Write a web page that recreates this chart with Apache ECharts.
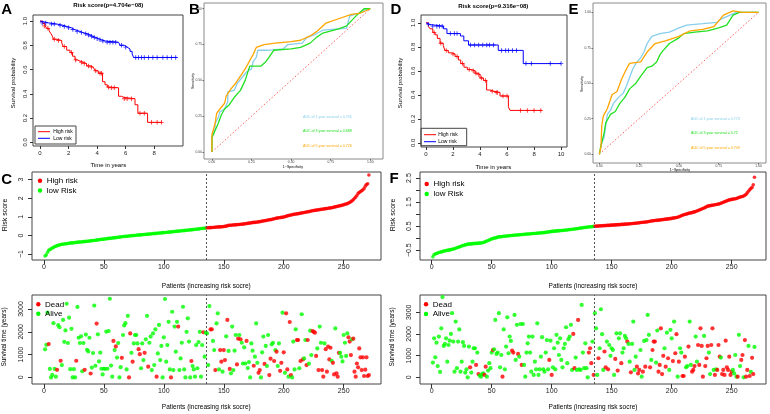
<!DOCTYPE html>
<html><head><meta charset="utf-8">
<script src="https://cdn.jsdelivr.net/npm/echarts@6/dist/echarts.min.js"></script>
<style>html,body{margin:0;padding:0;background:#fff}#c{width:770px;height:414px}</style>
</head><body><div id="c"></div>
<script>
// ---------------- DATA ----------------
// Kaplan-Meier curves: [time in years, survival probability]
const kmA_high = [[0,1],[0.19,0.98],[0.35,0.96],[0.47,0.94],[0.63,0.92],[0.75,0.90],[0.89,0.87],[0.93,0.85],[1.17,0.84],[1.52,0.82],[1.63,0.79],[1.87,0.76],[2.1,0.74],[2.28,0.71],[2.45,0.68],[2.61,0.67],[2.8,0.66],[3.03,0.65],[3.26,0.63],[3.5,0.62],[3.73,0.61],[3.85,0.59],[4.08,0.57],[4.38,0.50],[4.55,0.475],[4.71,0.455],[4.9,0.45],[5.5,0.38],[5.7,0.37],[5.88,0.36],[6.65,0.31],[6.85,0.24],[7.53,0.165],[8.55,0.165]];
const kmA_highCens = [[0.3,0.96],[0.55,0.94],[1.0,0.85],[1.3,0.84],[1.7,0.79],[2.2,0.74],[2.5,0.68],[2.9,0.66],[3.1,0.65],[3.4,0.63],[3.6,0.62],[3.9,0.59],[4.2,0.57],[4.3,0.57],[4.8,0.455],[5.0,0.45],[5.2,0.45],[5.9,0.36],[6.1,0.36],[6.4,0.36],[7.0,0.24],[7.3,0.24],[7.8,0.165],[8.2,0.165],[8.5,0.165]];
const kmA_low = [[0,1],[0.1,0.985],[0.6,0.975],[1.2,0.965],[1.6,0.955],[1.9,0.945],[2.2,0.93],[2.4,0.915],[2.8,0.905],[3.0,0.895],[3.3,0.885],[3.5,0.875],[3.7,0.865],[3.9,0.855],[4.1,0.845],[4.3,0.835],[4.6,0.825],[5.5,0.815],[5.6,0.80],[5.9,0.785],[6.1,0.77],[6.3,0.75],[6.45,0.73],[6.55,0.70],[9.57,0.70]];
const kmA_lowCens = [[0.15,0.985],[0.4,0.985],[0.8,0.975],[1.0,0.975],[1.4,0.965],[1.7,0.955],[2.0,0.945],[2.3,0.93],[2.6,0.915],[2.9,0.905],[3.2,0.895],[3.4,0.885],[3.6,0.875],[3.8,0.865],[4.0,0.855],[4.2,0.845],[4.4,0.835],[4.7,0.825],[4.9,0.825],[5.1,0.825],[5.3,0.825],[5.7,0.80],[6.0,0.785],[6.7,0.70],[6.9,0.70],[7.1,0.70],[7.3,0.70],[7.6,0.70],[7.9,0.70],[8.2,0.70],[8.6,0.70],[8.9,0.70],[9.2,0.70],[9.5,0.70]];

const kmD_high = [[0,1],[0.17,0.97],[0.3,0.95],[0.5,0.92],[0.67,0.90],[0.84,0.87],[1.04,0.83],[1.28,0.81],[1.4,0.77],[1.65,0.75],[1.9,0.74],[2.15,0.72],[2.4,0.69],[2.57,0.66],[2.81,0.63],[3.06,0.61],[3.38,0.60],[3.63,0.58],[3.8,0.57],[4.0,0.54],[4.25,0.52],[4.49,0.44],[4.74,0.43],[4.99,0.42],[5.48,0.39],[6.1,0.30],[6.22,0.27],[8.57,0.27]];
const kmD_highCens = [[0.6,0.92],[1.1,0.83],[1.5,0.77],[2.0,0.74],[2.3,0.72],[2.7,0.66],[3.2,0.61],[3.5,0.60],[3.7,0.58],[3.9,0.57],[4.1,0.54],[4.4,0.52],[4.9,0.43],[5.2,0.42],[5.3,0.42],[5.7,0.39],[6.0,0.39],[7.0,0.27],[7.5,0.27],[8.0,0.27],[8.5,0.27]];
const kmD_low = [[0,1],[0.1,0.985],[0.3,0.972],[1.3,0.95],[1.55,0.91],[2.55,0.89],[2.8,0.85],[3.15,0.815],[5.35,0.77],[7.2,0.66],[10.0,0.66]];
const kmD_lowCens = [[0.2,0.985],[0.5,0.972],[0.8,0.972],[1.0,0.972],[1.2,0.972],[1.8,0.91],[2.1,0.91],[2.3,0.91],[3.3,0.815],[3.6,0.815],[3.9,0.815],[4.2,0.815],[4.5,0.815],[4.7,0.815],[5.0,0.815],[5.6,0.77],[5.9,0.77],[6.1,0.77],[6.4,0.77],[6.7,0.77],[7.4,0.66],[7.8,0.66],[9.2,0.66],[10.0,0.66]];

// ROC curves: [1-specificity, sensitivity]
const rocB_1y = [[0,0],[0,0.1],[0.01,0.13],[0.02,0.16],[0.02,0.2],[0.04,0.24],[0.05,0.28],[0.08,0.3],[0.1,0.35],[0.1,0.42],[0.14,0.43],[0.16,0.48],[0.19,0.52],[0.22,0.56],[0.25,0.58],[0.26,0.63],[0.28,0.66],[0.29,0.71],[0.35,0.71],[0.45,0.72],[0.48,0.75],[0.57,0.76],[0.6,0.8],[0.65,0.82],[0.7,0.85],[0.8,0.86],[0.85,0.865],[0.87,0.95],[0.93,0.97],[0.98,1],[1,1]];
const rocB_3y = [[0,0],[0,0.1],[0.02,0.15],[0.04,0.2],[0.06,0.26],[0.08,0.3],[0.11,0.33],[0.14,0.38],[0.18,0.43],[0.21,0.5],[0.23,0.57],[0.24,0.6],[0.31,0.6],[0.34,0.63],[0.36,0.66],[0.39,0.71],[0.5,0.72],[0.56,0.73],[0.62,0.76],[0.66,0.8],[0.7,0.83],[0.8,0.86],[0.85,0.88],[0.91,0.95],[0.96,1],[1,1]];
const rocB_5y = [[0,0],[0,0.12],[0.02,0.2],[0.03,0.27],[0.05,0.3],[0.08,0.34],[0.09,0.39],[0.12,0.44],[0.15,0.48],[0.18,0.53],[0.21,0.58],[0.24,0.64],[0.26,0.68],[0.28,0.73],[0.33,0.75],[0.4,0.76],[0.5,0.77],[0.56,0.78],[0.62,0.81],[0.66,0.84],[0.7,0.88],[0.72,0.9],[0.8,0.93],[0.88,0.96],[0.94,0.97],[1,1]];
const rocE_1y = [[0,0],[0.01,0.06],[0.03,0.12],[0.04,0.2],[0.05,0.28],[0.07,0.31],[0.09,0.36],[0.12,0.4],[0.15,0.43],[0.17,0.48],[0.19,0.54],[0.21,0.6],[0.23,0.64],[0.26,0.68],[0.28,0.72],[0.3,0.78],[0.33,0.83],[0.38,0.85],[0.44,0.86],[0.5,0.89],[0.55,0.91],[0.65,0.92],[0.74,0.93],[0.76,0.95],[0.8,0.97],[0.86,1],[1,1]];
const rocE_3y = [[0,0],[0.01,0.06],[0.03,0.15],[0.04,0.22],[0.06,0.26],[0.07,0.28],[0.1,0.3],[0.13,0.36],[0.16,0.4],[0.19,0.46],[0.23,0.5],[0.26,0.55],[0.3,0.61],[0.33,0.62],[0.36,0.65],[0.38,0.7],[0.4,0.73],[0.44,0.78],[0.5,0.82],[0.53,0.85],[0.6,0.86],[0.68,0.87],[0.75,0.89],[0.8,0.91],[0.84,0.98],[0.88,1],[1,1]];
const rocE_5y = [[0,0],[0.01,0.05],[0.015,0.2],[0.025,0.27],[0.05,0.32],[0.08,0.42],[0.11,0.44],[0.14,0.53],[0.17,0.6],[0.19,0.64],[0.26,0.65],[0.3,0.72],[0.35,0.78],[0.42,0.8],[0.5,0.83],[0.57,0.87],[0.65,0.88],[0.72,0.9],[0.75,0.94],[0.78,0.98],[0.84,1.01],[0.9,1.0],[1,1]];
const aucB = ['0.705','0.688','0.726'];
const aucE = ['0.773','0.72','0.709'];

// Risk scores, patients sorted by increasing risk
const riskC = [
-1.10,-1.05,-0.92,-0.80,-0.76,-0.72,-0.68,-0.64,-0.61,-0.58,
-0.55,-0.53,-0.51,-0.49,-0.48,-0.47,-0.46,-0.45,-0.44,-0.43,
-0.42,-0.41,-0.40,-0.40,-0.39,-0.38,-0.37,-0.37,-0.36,-0.35,
-0.35,-0.34,-0.33,-0.33,-0.32,-0.31,-0.31,-0.30,-0.29,-0.28,
-0.27,-0.27,-0.26,-0.25,-0.24,-0.23,-0.22,-0.21,-0.21,-0.20,
-0.19,-0.18,-0.17,-0.16,-0.16,-0.15,-0.14,-0.13,-0.12,-0.12,
-0.11,-0.10,-0.09,-0.08,-0.07,-0.06,-0.06,-0.05,-0.04,-0.04,
-0.03,-0.02,-0.02,-0.01,0.00,0.00,0.01,0.02,0.02,0.03,
0.03,0.04,0.05,0.05,0.06,0.06,0.07,0.08,0.08,0.09,
0.10,0.10,0.11,0.11,0.12,0.13,0.13,0.14,0.15,0.15,
0.16,0.16,0.17,0.18,0.18,0.19,0.20,0.20,0.21,0.22,
0.22,0.23,0.24,0.24,0.25,0.26,0.26,0.27,0.28,0.28,
0.29,0.30,0.30,0.31,0.32,0.33,0.33,0.34,0.35,0.36,
0.37,0.37,0.38,0.39,0.40,
0.41,0.41,0.42,0.42,0.43,0.43,0.44,0.44,0.45,0.45,
0.46,0.46,0.47,0.47,0.48,0.49,0.50,0.52,0.54,0.55,
0.55,0.56,0.56,0.57,0.57,0.58,0.59,0.59,0.60,0.60,
0.61,0.62,0.63,0.64,0.65,0.66,0.67,0.68,0.69,0.70,
0.70,0.71,0.72,0.73,0.74,0.75,0.77,0.78,0.79,0.80,
0.81,0.83,0.84,0.85,0.86,0.88,0.90,0.91,0.93,0.94,
0.95,0.96,0.97,0.98,0.99,1.01,1.03,1.05,1.07,1.08,
1.10,1.11,1.13,1.14,1.15,1.16,1.17,1.18,1.20,1.21,
1.22,1.23,1.25,1.26,1.27,1.28,1.30,1.31,1.33,1.34,
1.35,1.36,1.37,1.38,1.39,1.40,1.41,1.42,1.43,1.44,
1.45,1.46,1.47,1.48,1.49,1.50,1.52,1.54,1.55,1.57,
1.58,1.60,1.61,1.63,1.65,1.67,1.69,1.71,1.74,1.77,
1.82,1.86,1.92,2.00,2.06,2.15,2.26,2.31,2.36,2.40,
2.45,2.52,2.65,2.74,2.78,3.25];
const lowCountC = 135;

const riskF = [
-0.78,-0.68,-0.66,-0.64,-0.62,-0.60,-0.59,-0.57,-0.56,-0.54,
-0.53,-0.52,-0.51,-0.50,-0.49,-0.48,-0.46,-0.45,-0.44,-0.42,
-0.40,-0.38,-0.37,-0.35,-0.33,-0.31,-0.30,-0.28,-0.27,-0.25,
-0.25,-0.24,-0.24,-0.23,-0.23,-0.22,-0.22,-0.22,-0.21,-0.21,
-0.20,-0.19,-0.18,-0.16,-0.14,-0.12,-0.10,-0.08,-0.06,-0.03,
-0.02,0.00,0.01,0.02,0.04,0.05,0.06,0.06,0.07,0.08,
0.08,0.09,0.09,0.10,0.10,0.11,0.11,0.12,0.12,0.13,
0.13,0.13,0.14,0.14,0.15,0.15,0.16,0.16,0.17,0.17,
0.17,0.18,0.18,0.19,0.19,0.19,0.20,0.20,0.21,0.21,
0.22,0.22,0.23,0.23,0.24,0.25,0.25,0.26,0.27,0.28,
0.28,0.29,0.29,0.30,0.30,0.31,0.31,0.32,0.32,0.33,
0.33,0.34,0.34,0.35,0.36,0.36,0.37,0.37,0.38,0.39,
0.39,0.40,0.41,0.42,0.42,0.43,0.44,0.44,0.45,0.46,
0.46,0.47,0.47,0.48,0.49,
0.49,0.50,0.50,0.50,0.51,0.51,0.51,0.52,0.52,0.52,
0.53,0.53,0.53,0.54,0.54,0.54,0.55,0.55,0.55,0.56,
0.56,0.56,0.57,0.57,0.57,0.58,0.58,0.59,0.59,0.60,
0.60,0.61,0.61,0.62,0.62,0.63,0.63,0.64,0.65,0.65,
0.66,0.66,0.67,0.67,0.68,0.69,0.70,0.71,0.72,0.72,
0.73,0.74,0.74,0.75,0.75,0.76,0.77,0.77,0.78,0.79,
0.79,0.80,0.81,0.81,0.82,0.83,0.84,0.85,0.86,0.87,
0.89,0.91,0.93,0.95,0.97,0.98,1.00,1.01,1.03,1.04,
1.05,1.06,1.08,1.09,1.11,1.13,1.15,1.17,1.19,1.21,
1.23,1.25,1.28,1.30,1.33,1.34,1.35,1.36,1.37,1.38,
1.39,1.40,1.41,1.42,1.43,1.45,1.47,1.49,1.51,1.53,
1.55,1.57,1.59,1.60,1.61,1.62,1.63,1.64,1.65,1.67,
1.69,1.71,1.72,1.73,1.75,1.78,1.82,1.88,1.95,2.01,
2.06,2.11,2.22,2.53];
const lowCountF = 135;

// Survival time (days) per patient in the same order; status D = dead, A = alive
const survC = [
1230,1430,2840,1460,370,0,110,2380,370,30,
330,2290,2200,730,540,2520,1560,2060,3230,1510,
2620,360,2130,0,360,0,730,3090,1740,1510,
1800,270,1510,330,1880,1210,1140,1740,170,430,
1070,3150,510,2360,1890,700,1090,380,130,380,
380,2010,380,2030,3450,520,30,1600,1200,1360,
870,1510,0,450,860,1860,2280,2380,350,2700,
0,1930,1080,690,1490,1860,1860,1490,1240,1020,
400,1490,760,1080,1670,2700,470,1520,1790,320,
1930,540,2110,30,1050,2300,760,1380,0,1760,
3440,690,1420,2440,350,0,2880,320,2230,1130,
2440,2230,320,830,1520,3100,350,0,2000,2590,
1570,0,720,500,350,30,1420,400,1550,2000,
30,1420,1980,910,1960,
1930,540,3130,2110,2110,1600,1200,320,2370,2810,
350,1200,690,250,1200,760,1800,2520,1160,370,
180,2230,320,1170,1860,570,1700,1860,1670,1520,
610,1320,610,1600,410,670,0,1490,1170,510,
910,2370,640,200,320,0,1100,1790,590,1380,
500,1860,100,820,1450,1520,720,1200,1130,500,
1490,290,640,2840,1100,200,2810,350,30,2430,
100,0,1570,350,2110,1640,1640,400,720,2770,
790,830,1640,540,1640,600,2050,980,2030,2000,
1960,940,1270,320,2230,1520,320,30,1490,1240,
250,1350,790,1300,730,640,130,2150,180,30,
1080,1080,910,700,1860,1520,940,1930,1760,1570,
980,1670,1700,250,30,610,440,1270,880,320,
880,60,340,880,60,100];
const statusC =
"AAADAAAAAA"+"DAADAAAAAA"+"AAAAAADAAA"+"AAADAAAADA"+"AAADAAAAAA"+"AAAAAAADAD"+"AAAADAAAAA"+"DDADAAAADD"+"AAADAADAAA"+"AAADAAAAAA"+"AAAAADAAAA"+"ADAAAAAAAA"+"AADAAAAAAA"+"AADAA"+
"AAADDAADAA"+"ADDADDADAD"+"AAAAADDADA"+"AAADAAAAAD"+"AAADDAAADA"+"AADDAADADA"+"ADDADADDAD"+"DAAAADDADA"+"DAADDAAADD"+"DDADAADDAD"+"DDDDADDADD"+"DAAAAAAADD"+"DADDDDDDDD"+"DDDDDD";

const survF = [
680,1800,920,1600,520,1880,250,2260,3700,1450,
1540,1800,720,1490,1690,2000,2960,1650,260,2570,
420,1650,2210,260,720,1620,1450,220,370,0,
1420,460,220,720,1340,1340,570,1140,150,80,
30,150,180,110,490,30,310,650,420,1140,
1260,1290,2650,1080,1140,2960,460,1030,30,2210,
370,1420,2770,1110,1880,1680,1230,1140,2880,800,
2420,1080,950,2460,570,2460,570,30,1140,1570,
1880,1140,260,1880,110,720,370,2490,110,370,
950,1850,370,260,1140,1720,370,800,1690,110,
460,1340,370,1960,1600,1030,1800,800,460,1340,
1540,2310,650,1760,1880,2420,340,2000,420,910,
340,2650,370,340,3340,1140,420,1570,420,0,
1140,1340,650,1650,110,
2960,2260,110,880,1340,3140,1990,340,1190,460,
1650,370,1490,990,1340,1260,110,850,2030,310,
1800,2030,650,1140,1340,1910,1800,1650,1540,720,
230,1540,2570,340,950,490,180,340,1260,30,
260,1680,490,1720,2880,1960,460,800,1260,1650,
1650,680,2160,260,570,2260,150,990,1340,490,
2060,880,340,2190,1800,750,2570,1110,1990,30,
720,1340,1140,60,60,950,460,520,1420,2570,
570,260,340,520,1880,720,1490,570,2260,1450,
30,1910,520,880,1450,1140,150,1490,2260,340,
110,370,340,1490,950,910,150,340,110,1690,
460,340,950,110,260,340,180,1030,30,30,
1960,520,800,1030,0,1720,30,340,1450,60,
250,900,150,1400];
const statusF =
"AAAAAAAAAA"+"AAAAAAAAAA"+"AAAAAAAAAA"+"ADAAAADADA"+"AAADDAAAAA"+"DAAAAAAADA"+"AAAAAADDAA"+"ADAADAAAAA"+"AAAAAAAAAA"+"AAAAAAADAD"+"AAAAAAAAAA"+"AAAAAAADDA"+"ADAAAAAAAA"+"DDDAD"+
"AAADAAAADD"+"ADAAAAADAD"+"AADAAAADAA"+"DAAAADDDAA"+"DADAAADADD"+"DAADDDDDAD"+"ADAAADADDA"+"DAADDDAADA"+"ADDDAADDDD"+"DADDDAADDA"+"DADDDADDDD"+"DDDDDAAAAD"+"AADDADDDAD"+"ADDA";

// Tick values
const kmTicksY = [0,0.2,0.4,0.6,0.8,1.0];
const kmTicksXA = [0,2,4,6,8];
const kmTicksXD = [0,2,4,6,8,10];
const rocTicks = [0,0.25,0.5,0.75,1];
const patientTicks = [0,50,100,150,200,250];
const riskTicksC = [-1,0,1,2,3];
const riskTicksF = [-0.5,0,0.5,1,1.5,2,2.5];
const riskLabelsF = [-0.5,0.5,1.5,2.5];
const survTicks = [0,1000,2000,3000];

// ---------------- CHART ----------------
const FONT = 'Liberation Sans, Arial, Helvetica, sans-serif';
const RED = '#FF0000', BLUE = '#0000FF', GREEN = '#00FF00';
const SKY = '#87CEEB', LGREEN = '#22E022', ORANGE = '#FFA500';
const minus = v => String(v).replace('-', '\u2212');

function ax(gi, min, max, ticks, labels, o) {
  return {
    gridIndex: gi, type: 'value', min: min, max: max,
    axisLine: {show: false, onZero: false}, splitLine: {show: false},
    axisTick: {show: true, length: o.tl, customValues: ticks, lineStyle: {color: o.tc || '#333', width: 1}},
    axisLabel: {show: true, customValues: labels, fontSize: o.fs, color: o.lc || '#222', margin: o.m,
      rotate: o.rot || 0, fontFamily: FONT, formatter: o.fmt || (v => minus(v)), hideOverlap: false}
  };
}

const grids = [
  {left: 33, top: 15, width: 150, height: 131},   // A
  {left: 204, top: 3, width: 179, height: 156},   // B
  {left: 421, top: 15, width: 146, height: 132},  // D
  {left: 593, top: 3, width: 173, height: 160},   // E
  {left: 32, top: 172, width: 349, height: 88},   // C risk
  {left: 32, top: 295, width: 349, height: 89},   // C survival
  {left: 420, top: 172, width: 346, height: 88},  // F risk
  {left: 420, top: 295, width: 346, height: 89}   // F survival
].map((g, i) => Object.assign({show: true, borderColor: (i === 1 || i === 3) ? '#8a8a8a' : '#444', borderWidth: 1, backgroundColor: 'rgba(0,0,0,0)'}, g));

const kmX = {tl: 3, fs: 6, m: 4};
const kmY = {tl: 3, fs: 6, m: 5, rot: 90, fmt: v => v.toFixed(1)};
const rocX = {tl: 1.5, fs: 3.4, m: 1.5, tc: '#666', lc: '#444', fmt: v => v.toFixed(2)};
const rocY = {tl: 1.5, fs: 3.4, m: 2, tc: '#666', lc: '#444', fmt: v => v.toFixed(2)};
const rX = {tl: 4, fs: 7, m: 4};
const rY = {tl: 4, fs: 7, m: 7, rot: 90};

const xAxes = [
  ax(0, -0.49, 10.01, kmTicksXA, kmTicksXA, kmX),
  ax(1, -0.05, 1.08, rocTicks, rocTicks, rocX),
  ax(2, -0.37, 10.44, kmTicksXD, kmTicksXD, kmX),
  ax(3, -0.04, 1.047, rocTicks, rocTicks, rocX),
  ax(4, -9.9, 281.1, patientTicks, patientTicks, rX),
  ax(5, -9.9, 281.1, patientTicks, patientTicks, rX),
  ax(6, -9.75, 278.6, patientTicks, patientTicks, rX),
  ax(7, -9.75, 278.6, patientTicks, patientTicks, rX)
];
const yAxes = [
  ax(0, -0.03, 1.05, kmTicksY, kmTicksY, kmY),
  ax(1, -0.049, 1.04, rocTicks, rocTicks, rocY),
  ax(2, -0.035, 1.065, kmTicksY, kmTicksY, kmY),
  ax(3, -0.063, 1.066, rocTicks, rocTicks, rocY),
  ax(4, -1.32, 3.41, riskTicksC, riskTicksC, rY),
  ax(5, -290, 3615, survTicks, survTicks, rY),
  ax(6, -0.91, 2.75, riskTicksF, riskLabelsF, rY),
  ax(7, -309, 3798, survTicks, survTicks, rY)
];

const PLUS = 'path://M4,0H6V10H4Z M0,4H10V6H0Z';
function kmLine(gi, data, color) {
  return {type: 'line', xAxisIndex: gi, yAxisIndex: gi, data: data, step: 'end', showSymbol: false,
    lineStyle: {color: color, width: 1}, silent: true, z: 3};
}
function kmCens(gi, data, color) {
  return {type: 'scatter', xAxisIndex: gi, yAxisIndex: gi, data: data, symbol: PLUS, symbolSize: 4.5,
    itemStyle: {color: color}, silent: true, z: 4};
}
function rocLine(gi, data, color) {
  return {type: 'line', xAxisIndex: gi, yAxisIndex: gi, data: data, showSymbol: false,
    lineStyle: {color: color, width: 1.3}, silent: true, z: 3};
}
function diag(gi) {
  return {type: 'line', xAxisIndex: gi, yAxisIndex: gi, data: [[0, 0], [1, 1]], showSymbol: false,
    lineStyle: {color: '#FF6060', width: 1, type: [1.5, 2]}, silent: true, z: 2};
}
const cutLine = {silent: true, symbol: 'none', label: {show: false},
  lineStyle: {color: '#555', type: [2, 2], width: 1}, data: [{xAxis: 135.5}]};
function riskSeries(gi, vals, nLow) {
  return {type: 'scatter', xAxisIndex: gi, yAxisIndex: gi, symbolSize: 3.6, silent: true,
    data: vals.map((v, i) => ({value: [i + 1, v], itemStyle: {color: i < nLow ? GREEN : RED}})),
    markLine: cutLine};
}
function survSeries(gi, vals, st) {
  return {type: 'scatter', xAxisIndex: gi, yAxisIndex: gi, symbolSize: 4.2, silent: true,
    data: vals.map((v, i) => ({value: [i + 1, v], itemStyle: {color: st[i] === 'D' ? RED : GREEN}})),
    markLine: cutLine};
}

const series = [
  kmLine(0, kmA_high, RED), kmLine(0, kmA_low, BLUE), kmCens(0, kmA_highCens, RED), kmCens(0, kmA_lowCens, BLUE),
  diag(1), rocLine(1, rocB_1y, SKY), rocLine(1, rocB_3y, LGREEN), rocLine(1, rocB_5y, ORANGE),
  kmLine(2, kmD_high, RED), kmLine(2, kmD_low, BLUE), kmCens(2, kmD_highCens, RED), kmCens(2, kmD_lowCens, BLUE),
  diag(3), rocLine(3, rocE_1y, SKY), rocLine(3, rocE_3y, LGREEN), rocLine(3, rocE_5y, ORANGE),
  riskSeries(4, riskC, lowCountC), survSeries(5, survC, statusC),
  riskSeries(6, riskF, lowCountF), survSeries(7, survF, statusF)
];

// ---------- text & legends ----------
const G = [];
function T(x, y, text, fs, o) {
  o = o || {};
  G.push({type: 'text', x: x, y: y, rotation: o.rot || 0, silent: true, z: 10,
    style: {text: text, fontSize: fs, fontFamily: FONT, fontWeight: o.bold ? 'bold' : 'normal',
      fill: o.color || '#000', align: o.align || 'center', verticalAlign: o.va || 'middle'}});
}
function dot(x, y, c) { G.push({type: 'circle', shape: {cx: x, cy: y, r: 2.2}, style: {fill: c}, silent: true, z: 10}); }
function seg(x1, y1, x2, y2, c) { G.push({type: 'line', shape: {x1: x1, y1: y1, x2: x2, y2: y2}, style: {stroke: c, lineWidth: 1}, silent: true, z: 10}); }
function box(x, y, w, h) { G.push({type: 'rect', shape: {x: x, y: y, width: w, height: h}, style: {fill: 'rgba(0,0,0,0)', stroke: '#444', lineWidth: 1}, silent: true, z: 10}); }
const R90 = Math.PI / 2;

// panel letters
T(6.7, 9.5, 'A', 15, {bold: true}); T(194.5, 9.5, 'B', 15, {bold: true});
T(396, 9.5, 'D', 15, {bold: true}); T(573.5, 9.5, 'E', 15, {bold: true});
T(6.7, 179.5, 'C', 15, {bold: true}); T(394, 179.3, 'F', 15, {bold: true});

// KM panels
T(108.3, 5, 'Risk score(p=4.704e\u221208)', 6, {bold: true});
T(13.3, 83, 'Survival probability', 6, {rot: R90});
T(108.3, 165.7, 'Time in years', 6);
box(35, 126, 41, 18); seg(38, 131.7, 50, 131.7, RED); seg(38, 138.3, 50, 138.3, BLUE);
T(53.3, 131.7, 'High risk', 5, {align: 'left'}); T(53.3, 138.3, 'Low risk', 5, {align: 'left'});

T(493.3, 6, 'Risk score(p=9.316e\u221208)', 6, {bold: true});
T(400.7, 83, 'Survival probability', 6, {rot: R90});
T(493.3, 167, 'Time in years', 6);
box(421, 128.3, 45.7, 17.4); seg(424, 134.7, 436, 134.7, RED); seg(424, 141.7, 436, 141.7, BLUE);
T(438.3, 134.7, 'High risk', 5, {align: 'left'}); T(438.3, 141.7, 'Low risk', 5, {align: 'left'});

// ROC panels
T(193, 81, 'Sensitivity', 3.6, {rot: R90});
T(293, 166.5, '1\u2212Specificity', 3.6);
T(303, 117, 'AUC of 1 year survival = ' + aucB[0], 3.6, {align: 'left', color: SKY});
T(303, 131, 'AUC of 3 year survival = ' + aucB[1], 3.6, {align: 'left', color: LGREEN});
T(303, 146, 'AUC of 5 year survival = ' + aucB[2], 3.6, {align: 'left', color: ORANGE});
T(582, 84, 'Sensitivity', 3.6, {rot: R90});
T(680, 170, '1\u2212Specificity', 3.6);
T(691, 119, 'AUC of 1 year survival = ' + aucE[0], 3.6, {align: 'left', color: SKY});
T(691, 133, 'AUC of 3 year survival = ' + aucE[1], 3.6, {align: 'left', color: LGREEN});
T(691, 148, 'AUC of 5 year survival = ' + aucE[2], 3.6, {align: 'left', color: ORANGE});

// Risk / survival panels
T(5, 215, 'Risk score', 7, {rot: R90});
T(206.3, 286, 'Patients (increasing risk socre)', 6.5);
T(4.5, 337, 'Survival time (years)', 6.5, {rot: R90});
T(206.3, 407.7, 'Patients (increasing risk socre)', 6.5);
dot(40, 180.7, RED); T(46.7, 180.7, 'High risk', 8, {align: 'left'});
dot(40, 190.5, GREEN); T(46.7, 190.5, 'low Risk', 8, {align: 'left'});
dot(38.3, 304.3, RED); T(45, 304.3, 'Dead', 8, {align: 'left'});
dot(38.3, 313.7, GREEN); T(45, 313.7, 'Alive', 8, {align: 'left'});

T(393.3, 215, 'Risk score', 7, {rot: R90});
T(593, 286, 'Patients (increasing risk socre)', 6.5);
T(392, 337, 'Survival time (years)', 6.5, {rot: R90});
T(593, 407.7, 'Patients (increasing risk socre)', 6.5);
dot(426.7, 184, RED); T(433.5, 184, 'High risk', 8, {align: 'left'});
dot(426.7, 194, GREEN); T(433.5, 194, 'low Risk', 8, {align: 'left'});
dot(426, 304.3, RED); T(432.7, 304.3, 'Dead', 8, {align: 'left'});
dot(426, 314, GREEN); T(432.7, 314, 'Alive', 8, {align: 'left'});

const chart = echarts.init(document.getElementById('c'), null, {renderer: 'canvas'});
chart.setOption({
  animation: false,
  backgroundColor: '#fff',
  textStyle: {fontFamily: FONT},
  grid: grids, xAxis: xAxes, yAxis: yAxes, series: series, graphic: G
});
</script></body></html>
